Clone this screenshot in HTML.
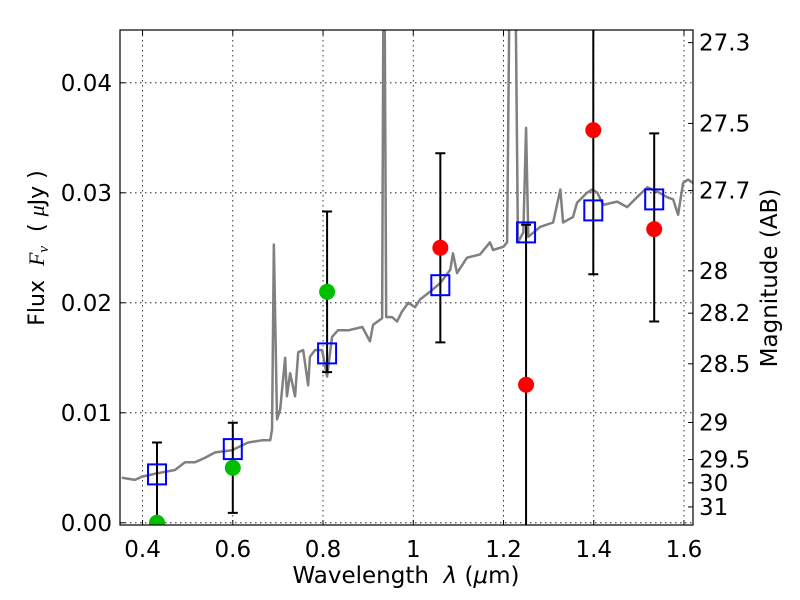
<!DOCTYPE html>
<html><head><meta charset="utf-8"><style>
html,body{margin:0;padding:0;background:#fff;}
svg{display:block;font-family:"DejaVu Sans","Liberation Sans",sans-serif;}
</style></head><body>
<svg id="chart" width="800" height="600" viewBox="0 0 800 600">
<defs><clipPath id="clip"><rect x="120" y="30" width="573" height="495"/></clipPath></defs>
<rect x="0" y="0" width="800" height="600" fill="#fff"/>
<g id="grid"></g>
<g id="plot" clip-path="url(#clip)"></g>
<rect x="120" y="30" width="573" height="495" fill="none" stroke="#000" stroke-width="1.2"/>
<g id="axes"></g>
<text x="406" y="583" font-size="23" text-anchor="middle" xml:space="preserve">Wavelength  <tspan font-style="italic">λ</tspan> (<tspan font-style="italic">μ</tspan>m)</text>
<text transform="translate(44,248) rotate(-90)" font-size="22" text-anchor="middle" xml:space="preserve">Flux  <tspan font-style="italic" font-family="Liberation Serif,serif">F<tspan font-size="15" dy="4">ν</tspan></tspan><tspan dy="-4">  ( </tspan><tspan font-style="italic" font-family="Liberation Serif,serif">μ</tspan>Jy )</text>
<text transform="translate(777,278) rotate(-90)" font-size="23" text-anchor="middle">Magnitude (AB)</text>
</svg>
<script>
const xTicks=[0.4,0.6,0.8,1.0,1.2,1.4,1.6];
const xTickLabels=["0.4","0.6","0.8","1","1.2","1.4","1.6"];
const yTicks=[0,0.01,0.02,0.03,0.04];
const yTickLabels=["0.00","0.01","0.02","0.03","0.04"];
const magTicks=[27.3,27.5,27.7,28,28.2,28.5,29,29.5,30,31];
const magTickLabels=["27.3","27.5","27.7","28","28.2","28.5","29","29.5","30","31"];
const specWave=[0.354,0.383,0.399,0.432,0.472,0.494,0.516,0.538,0.561,0.598,0.634,0.665,0.683,0.687,0.691,0.698,0.705,0.716,0.720,0.727,0.738,0.745,0.756,0.767,0.771,0.782,0.798,0.809,0.820,0.833,0.856,0.887,0.904,0.911,0.931,0.935,0.940,0.953,0.964,0.975,0.989,1.004,1.015,1.037,1.060,1.082,1.088,1.097,1.119,1.148,1.170,1.177,1.200,1.208,1.216,1.224,1.232,1.244,1.250,1.255,1.281,1.310,1.326,1.332,1.354,1.363,1.385,1.397,1.408,1.421,1.452,1.474,1.496,1.519,1.541,1.563,1.576,1.587,1.598,1.609,1.620];
const specFlux=[.0041,.0039,.0042,.0045,.0048,.0055,.0055,.0059,.0064,.0066,.0073,.0075,.0075,.0085,.0253,.0094,.0103,.0150,.0115,.0136,.0115,.0155,.0157,.0125,.0151,.0157,.0157,.0133,.0169,.0175,.0175,.0178,.0165,.0180,.0186,.060,.0187,.0187,.0183,.0192,.0200,.0196,.0203,.0210,.0218,.0230,.0245,.0227,.0241,.0244,.0255,.0248,.0251,.0255,.060,.060,.0255,.0264,.0359,.0260,.0269,.0273,.0303,.0273,.0278,.0291,.0300,.0303,.0300,.0289,.0292,.0287,.0296,.0305,.0301,.0296,.0294,.0280,.0309,.0312,.0309];
const bandWave=[0.432,0.600,0.809,1.060,1.250,1.399,1.534];
const modelFlux=[0.0044,0.0067,0.0154,0.0216,0.0264,0.0284,0.0294];
const errHigh=[0.0073,0.0091,0.0283,0.0336,0.0271,0.0600,0.0354];
const errLow=[-0.005,0.0009,0.0137,0.0164,-0.005,0.0226,0.0183];
const greenWave=[0.432,0.600,0.809];
const greenFlux=[0.0000,0.0050,0.0210];
const redWave=[1.060,1.250,1.399,1.534];
const redFlux=[0.0250,0.01255,0.0357,0.0267];

const X0=0.35,X1=1.62,Y0=-0.0002,Y1=0.0448;
const L=120,R=693,T=30,B=525;
const sx=v=>L+(v-X0)/(X1-X0)*(R-L);
const sy=v=>B-(v-Y0)/(Y1-Y0)*(B-T);
const magToFlux=m=>Math.pow(10,(23.9-m)/2.5);
const NS="http://www.w3.org/2000/svg";
function mk(tag,attrs,parent){const e=document.createElementNS(NS,tag);for(const k in attrs)e.setAttribute(k,attrs[k]);parent.appendChild(e);return e;}
const grid=document.getElementById('grid'),plot=document.getElementById('plot'),axes=document.getElementById('axes');

xTicks.forEach((t,i)=>{
  const x=sx(t);
  const g=mk('line',{x1:x,x2:x,y1:T,y2:B,stroke:'#000','stroke-width':0.8,'stroke-dasharray':'1.5,3.5'},grid);
  
  
  const tk=mk('path',{d:`M${x},${B}v-5M${x},${T}v5`,stroke:'#000','stroke-width':1},axes);
  
  
  const tx=mk('text',{x:x,y:B+32,'font-size':23,'text-anchor':'middle'},axes);
  tx.textContent=xTickLabels[i];
  
  
});
yTicks.forEach((t,i)=>{
  const y=sy(t);
  const g=mk('line',{x1:L,x2:R,y1:y,y2:y,stroke:'#000','stroke-width':0.8,'stroke-dasharray':'1.5,3.5'},grid);
  
  
  const tk=mk('path',{d:`M${L},${y}h5`,stroke:'#000','stroke-width':1},axes);
  
  
  const tx=mk('text',{x:L-8,y:y+8,'font-size':23,'text-anchor':'end'},axes);
  tx.textContent=yTickLabels[i];
  
  
});
magTicks.forEach((m,i)=>{
  const y=sy(magToFlux(m));
  const tk=mk('path',{d:`M${R},${y}h-5`,stroke:'#000','stroke-width':1},axes);
  
  
  const tx=mk('text',{x:R+6,y:y+8,'font-size':23,'text-anchor':'start'},axes);
  tx.textContent=magTickLabels[i];
  
  
});

const spec=mk('polyline',{points:specWave.map((w,i)=>sx(w)+','+sy(specFlux[i])).join(' '),fill:'none',stroke:'#808080','stroke-width':2.5,'stroke-linejoin':'round'},plot);



bandWave.forEach((w,i)=>{
  const x=sx(w),y1=sy(errHigh[i]),y2=sy(errLow[i]);
  const e=mk('path',{d:`M${x},${y1}V${y2}M${x-5},${y1}h10M${x-5},${y2}h10`,stroke:'#000','stroke-width':2,fill:'none'},plot);
  
  
});
greenWave.forEach((w,i)=>{
  const c=mk('circle',{cx:sx(w),cy:sy(greenFlux[i]),r:8,fill:'#00bf00'},plot);
  
  
});
redWave.forEach((w,i)=>{
  const c=mk('circle',{cx:sx(w),cy:sy(redFlux[i]),r:8,fill:'#ff0000'},plot);
  
  
});
bandWave.forEach((w,i)=>{
  const s=mk('rect',{x:sx(w)-9,y:sy(modelFlux[i])-10,width:18,height:20,fill:'none',stroke:'#0000ff','stroke-width':2},plot);
  
  
});
</script>
</body></html>
